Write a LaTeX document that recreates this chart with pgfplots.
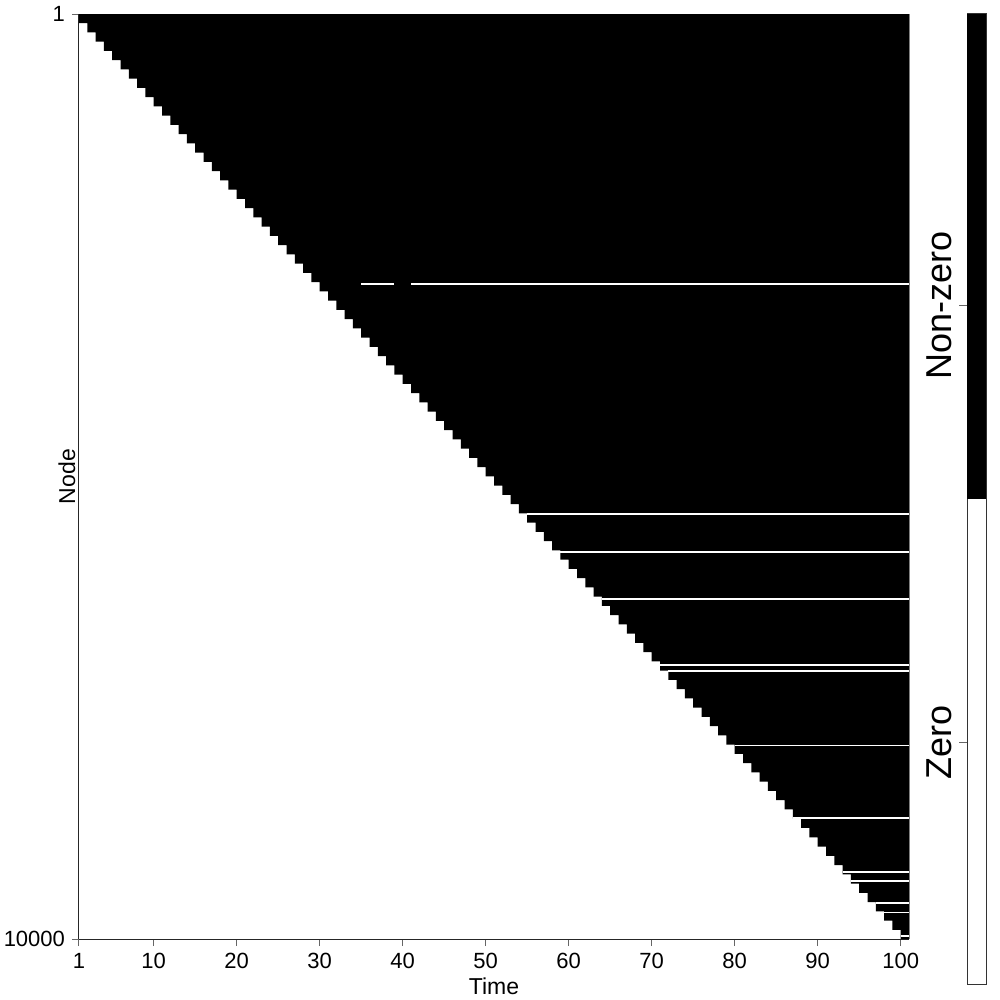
\documentclass[border=0pt]{standalone}
\usepackage{fontspec}
\setmainfont{Liberation Sans}
\usepackage{pgfplots}
\pgfplotsset{compat=1.18}

\begin{document}
\begin{tikzpicture}
\useasboundingbox (0,0) rectangle (500pt,500pt);
% main matrix: column t is non-zero for nodes 1..100t
\begin{axis}[
  at={(39.5pt,30.5pt)}, anchor=south west,
  scale only axis, width=415pt, height=462.5pt,
  xmin=1, xmax=101, ymin=1, ymax=10000,
  y dir=reverse,
  axis lines=left, axis line style={black!85, line width=0.5pt, -},
  xtick={1,10,20,30,40,50,60,70,80,90,100},
  ytick={1,10000},
  scaled y ticks=false,
  tick align=outside, major tick length=3.5pt,
  tick style={black!60, line width=0.5pt},
  /pgf/number format/1000 sep={},
  /pgf/number format/assume math mode=true,
  tick label style={font=\fontsize{11}{13}\selectfont},
  label style={font=\fontsize{11.5}{13}\selectfont},
  xlabel={Time}, ylabel={Node},
  xlabel style={at={(axis description cs:0.5,0)}, anchor=north, yshift=-16pt},
  ylabel style={at={(axis description cs:0.004,0.5)}, anchor=south},
  clip=false,
]
\addplot[fill=black, draw=none, const plot mark left] coordinates {
  (1,100) (2,200) (3,300) (4,400) (5,500) (6,600) (7,700) (8,800) (9,900) (10,1000)
  (11,1100) (12,1200) (13,1300) (14,1400) (15,1500) (16,1600) (17,1700) (18,1800) (19,1900) (20,2000)
  (21,2100) (22,2200) (23,2300) (24,2400) (25,2500) (26,2600) (27,2700) (28,2800) (29,2900) (30,3000)
  (31,3100) (32,3200) (33,3300) (34,3400) (35,3500) (36,3600) (37,3700) (38,3800) (39,3900) (40,4000)
  (41,4100) (42,4200) (43,4300) (44,4400) (45,4500) (46,4600) (47,4700) (48,4800) (49,4900) (50,5000)
  (51,5100) (52,5200) (53,5300) (54,5400) (55,5500) (56,5600) (57,5700) (58,5800) (59,5900) (60,6000)
  (61,6100) (62,6200) (63,6300) (64,6400) (65,6500) (66,6600) (67,6700) (68,6800) (69,6900) (70,7000)
  (71,7100) (72,7200) (73,7300) (74,7400) (75,7500) (76,7600) (77,7700) (78,7800) (79,7900) (80,8000)
  (81,8100) (82,8200) (83,8300) (84,8400) (85,8500) (86,8600) (87,8700) (88,8800) (89,8900) (90,9000)
  (91,9100) (92,9200) (93,9300) (94,9400) (95,9500) (96,9600) (97,9700) (98,9800) (99,9900) (100,10000)
  (101,10000) (101,1) (1,1)
} -- cycle;
% nodes that return to zero
\pgfplotsset{zline/.style={white, solid, mark=none, line width=0.7pt}}
\addplot[zline] coordinates {(35,2920) (39,2920)};
\addplot[zline] coordinates {(41,2920) (101,2920)};
\addplot[zline] coordinates {(55,5406) (101,5406)};
\addplot[zline] coordinates {(59,5817) (101,5817)};
\addplot[zline] coordinates {(64,6325) (101,6325)};
\addplot[zline] coordinates {(71,7038) (101,7038)};
\addplot[zline] coordinates {(72,7102) (101,7102)};
\addplot[zline] coordinates {(80,7905) (101,7905)};
\addplot[zline] coordinates {(87,8691) (101,8691)};
\addplot[zline] coordinates {(93,9275) (101,9275)};
\addplot[zline] coordinates {(94,9374) (101,9374)};
\addplot[zline] coordinates {(97,9610) (101,9610)};
\addplot[zline] coordinates {(98,9711) (101,9711)};
\addplot[zline] coordinates {(100,9967) (101,9967)};
\addplot[black!50, solid, mark=none, line width=0.5pt] coordinates {(101,1) (101,10000)};
\end{axis}
% colour bar
\begin{axis}[
  at={(483.5pt,7.5pt)}, anchor=south west,
  scale only axis, width=9.5pt, height=485.5pt,
  xmin=0, xmax=1, ymin=0, ymax=1,
  axis line style={black!80, line width=0.5pt},
  xtick=\empty,
  ytick={0.25,0.7}, yticklabels={Zero,Non-zero},
  ytick pos=left,
  tick align=outside, major tick length=4pt,
  tick style={black!60, line width=0.5pt},
  yticklabel style={font=\fontsize{18}{20}\selectfont, rotate=90, anchor=south},
]
\addplot[fill=black, draw=none] coordinates {(0,0.5) (1,0.5) (1,1) (0,1)} -- cycle;
\end{axis}
\end{tikzpicture}
\end{document}
